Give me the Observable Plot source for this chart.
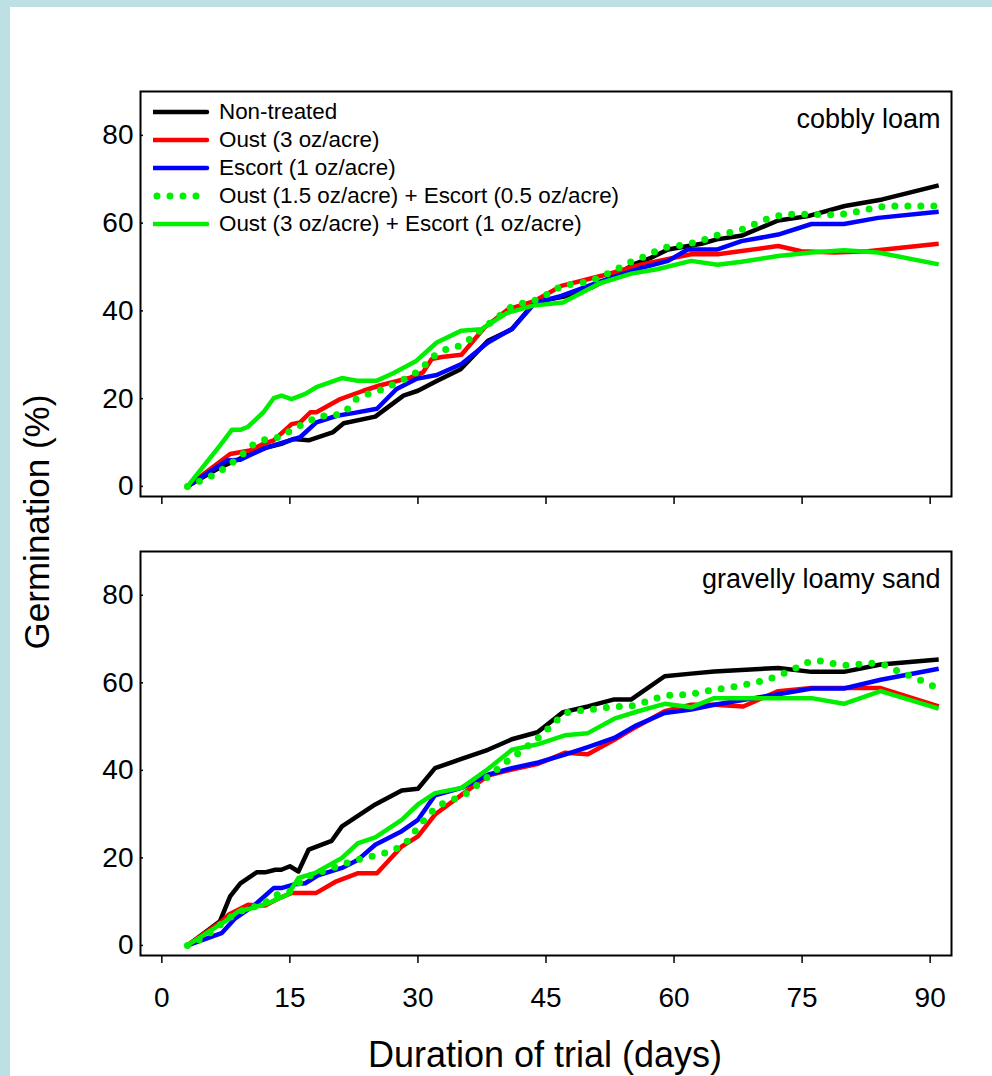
<!DOCTYPE html>
<html><head><meta charset="utf-8">
<script src="https://cdn.jsdelivr.net/npm/d3@7"></script>
<script src="https://cdn.jsdelivr.net/npm/@observablehq/plot@0.6"></script>
<style>
html,body{margin:0;padding:0;background:#bce0e3;width:992px;height:1076px;overflow:hidden;}
#sheet{position:absolute;left:10px;top:7px;width:982px;height:1069px;background:#fff;}
.abs{position:absolute;}
.txt{font-family:'Liberation Sans',Arial,sans-serif;color:#000;white-space:nowrap;}
</style></head>
<body>
<div id="sheet"></div>
<div id="fig"></div>
<script>
// ---------- data ----------
const xTicks = [0, 15, 30, 45, 60, 75, 90];
const yTicks = [0, 20, 40, 60, 80];
const seriesNames = ["Non-treated", "Oust (3 oz/acre)", "Escort (1 oz/acre)",
  "Oust (1.5 oz/acre) + Escort (0.5 oz/acre)", "Oust (3 oz/acre) + Escort (1 oz/acre)"];
const seriesColors = ["#000000", "#ff0000", "#0000ff", "#00ee00", "#00ee00"];
const seriesDotted = [false, false, false, true, false];
const panelLabels = ["cobbly loam", "gravelly loamy sand"];

// cobbly loam: [day, germination %]
const loamNonTreated = [[3,0],[5,2.3],[7,4.5],[9,6.2],[11,8.2],[14,9.7],[15.4,10.8],[17.2,10.5],[20,12.3],[21.3,14.4],[25,15.9],[28.3,20.7],[30,21.8],[32.2,24],[35,26.7],[38.2,33.2],[41,35.8],[43.7,42],[47,43.2],[50.3,45.3],[52.6,47.6],[55.4,50.7],[57.3,52.1],[59.3,54],[63.2,55.3],[65,56.3],[68,57.2],[72.2,60.6],[75.7,61.6],[80,63.9],[84.4,65.4],[91,68.6]];
const loamOust = [[3,0],[8,7.4],[10.3,8.2],[11.9,9.7],[13.1,10.5],[15.2,14.2],[16.2,14.6],[17.4,16.9],[18.1,16.9],[20.9,19.9],[23.6,21.8],[25.5,23],[29.1,24.8],[30.6,26],[31.6,29],[32.8,29.5],[35.1,30],[37.8,36.2],[40.6,40.4],[43.7,42.3],[46.8,45.7],[51.5,48],[56.2,50.6],[62,52.9],[65.1,52.9],[72.2,54.8],[74.9,53.6],[78.8,53.3],[82.7,53.6],[91,55.3]];
const loamEscort = [[3,0],[7.6,5.9],[9.2,6.1],[12.3,8.9],[15,10.5],[16.2,11.2],[18.1,14.6],[20.5,16.1],[22.4,16.7],[25.2,17.7],[27.5,22.2],[29.8,24.5],[32.2,25.4],[35.1,27.9],[38.2,32.8],[41,35.9],[43.7,41.8],[46.8,43.4],[51.5,46.8],[56.2,49.8],[59.3,51.4],[61.6,54],[65.1,54],[67.9,55.9],[72.2,57.4],[76.1,59.8],[79.9,59.8],[83.9,61.2],[91,62.6]];
const loamMixLow = [[3,0],[4.7,1.4],[6.2,2.7],[7.7,4.6],[9.2,6.9],[10.7,9.5],[12.2,10.8],[13.8,11.2],[15.3,13],[16.9,14.5],[18.4,16.1],[19.9,16],[21.4,16.8],[22.7,19.8],[24.2,21.1],[25.7,22],[27.2,23.3],[28.7,24.7],[30.3,26.5],[31.6,29.4],[33,31.1],[34.5,31.7],[36.1,33.6],[37.6,36],[39.2,38.3],[40.6,40.6],[42.2,41.7],[43.7,42.4],[45.3,43.9],[46.8,45.7],[48.4,46.2],[49.9,46.6],[51.5,47.8],[53,49.2],[54.5,50.8],[56.1,52],[57.6,53.4],[59.1,54.5],[60.6,54.9],[62.2,55.5],[63.8,56.4],[65.3,57.4],[66.9,58],[68.4,58.8],[69.9,60.2],[71.5,61.4],[73,62],[74.6,62],[76.1,62],[77.6,61.9],[79.2,61.9],[80.7,62.3],[82.2,63],[83.8,63.6],[85.3,63.9],[86.9,63.9],[88.4,63.9],[89.9,63.9],[91,63.9]];
const loamMixHigh = [[3,0],[6.8,9.3],[8.2,12.9],[9.2,12.9],[10.1,13.6],[11.9,16.9],[13.1,20.1],[14,20.7],[15.2,19.9],[16.8,21.1],[18.1,22.6],[21.1,24.7],[22.8,24.1],[25.2,24.1],[27.1,25.8],[29.8,28.6],[32.2,32.8],[35.1,35.5],[37.4,35.8],[40.4,39.5],[43.5,41.2],[47,41.9],[51.3,46.3],[55,48.5],[58,49.5],[62,51.4],[65.1,50.5],[67.9,51.2],[72.2,52.5],[76.1,53.3],[79.9,53.8],[83.9,53.3],[91,50.6]];

// gravelly loamy sand: [day, germination %]
const sandNonTreated = [[3,0],[6.8,5.5],[8,11.2],[9.2,14.2],[11.1,16.7],[12.1,16.7],[13.3,17.3],[14,17.3],[15,18.1],[16,16.9],[17.2,21.9],[19.9,23.9],[21.1,27.2],[25,32.2],[28.1,35.4],[30,35.8],[32,40.5],[35.1,42.6],[38.2,44.7],[41,47.1],[44,48.7],[47,53.3],[49.9,54.6],[53,56.2],[55,56.2],[58.9,61.5],[62,62.1],[64.7,62.6],[72.2,63.4],[76.1,62.5],[79.9,62.5],[84.2,64.2],[91,65.3]];
const sandOust = [[3,0],[7,5.5],[7.8,7],[10.1,9.3],[12.1,9.1],[13.3,10.4],[15.2,12],[18.1,12],[20.3,14.5],[23,16.5],[25.2,16.5],[28.1,22.6],[30,24.9],[32,29.9],[35.1,34.4],[38.2,38.8],[41,40.2],[44.1,41.5],[47.2,44],[49.9,43.7],[53,47],[55,49.3],[58.9,53.5],[62,55],[64.7,55],[68.1,54.6],[72.2,58.1],[76.1,58.8],[84.2,58.8],[91,54.6]];
const sandEscort = [[3,0],[7,2.8],[8.6,6.2],[10.9,9.3],[13.1,13.1],[14,13.1],[15.6,14],[16.8,14.2],[18.3,16],[21.1,17.7],[23,19.6],[25,23],[28.1,26.1],[30,28.7],[32,34.3],[35.1,36],[38.2,39],[41,40.5],[44.1,41.8],[47.2,43.6],[49.9,45.3],[53,47.4],[55.4,50.1],[58.9,53.1],[62,53.9],[64.7,55],[72.2,57.4],[76.1,58.7],[79.9,58.7],[84.2,60.7],[91,63.2]];
const sandMixLow = [[3,0],[4.6,1.5],[6,3.4],[7.4,5.6],[8.9,7.6],[10.4,8.5],[12,9.7],[13.5,11.6],[15,12.3],[16.4,14.8],[17.7,16.3],[19.2,17.1],[20.7,18.2],[22.3,19.2],[23.9,20.1],[25.4,20.7],[27,21.6],[28.5,23.2],[29.7,26.2],[31,29.3],[32.3,31.9],[33.8,33.1],[35.4,34.3],[37,36.7],[38.5,39],[40,41.4],[41.6,43.7],[43.1,45.9],[44.6,48.2],[46.1,51.2],[47.6,53.3],[49.1,53.7],[50.7,54],[52.2,54.4],[53.8,54.6],[55.3,54.8],[56.9,55.8],[58.4,56.8],[59.9,57.3],[61.5,57.3],[63,57.8],[64.5,58.4],[66,58.8],[67.6,59.3],[69.1,59.9],[70.7,60.6],[72.2,61.6],[73.8,62.9],[75.3,64.5],[76.8,65.1],[78.4,64.5],[79.9,64],[81.5,64.2],[83,64.5],[84.5,64.2],[86.1,62.8],[87.6,61.6],[89.2,60.3],[91,58.7]];
const sandMixHigh = [[3,0],[7.4,5.5],[9,7.8],[10.5,8.5],[12.5,9.7],[14.8,11.7],[16,15.4],[17.9,16.5],[21.1,20],[23,23.4],[25,24.7],[28.1,28.7],[30,32.2],[32,34.8],[35.1,36],[38.2,40.3],[41,44.7],[44.1,46],[47.2,48],[49.9,48.5],[53,51.8],[55.8,53.5],[58.9,55.2],[62,54.4],[64.7,56.5],[76.1,56.5],[79.9,55.2],[84.2,58.1],[91,54.1]];

const loamSeries = [loamNonTreated, loamOust, loamEscort, loamMixLow, loamMixHigh];
const sandSeries = [sandNonTreated, sandOust, sandEscort, sandMixLow, sandMixHigh];
// drawing order: black, red, blue, solid green, dotted green
const drawOrder = [0, 1, 2, 4, 3];

const FONT = "'Liberation Sans', Arial, Helvetica, sans-serif";

function lineMark(data, i) {
  const dotted = seriesDotted[i];
  return Plot.line(data, {
    x: d => d[0], y: d => d[1],
    stroke: seriesColors[i],
    strokeWidth: dotted ? 7 : 4.5,
    strokeDasharray: dotted ? "0 13" : null,
    strokeLinecap: dotted ? "round" : "butt",
    strokeLinejoin: "round"
  });
}

function panel(series, label, showX, o) {
  return Plot.plot({
    width: 992, height: o.height,
    marginLeft: 140, marginRight: 41, marginTop: o.mt, marginBottom: o.mb,
    style: {fontFamily: FONT, fontSize: "28px", color: "#000", background: "transparent", overflow: "visible"},
    x: {domain: [-2.5, 92.5]},
    y: {domain: [-2.3, 90]},
    marks: [
      Plot.axisX({ticks: xTicks, tickSize: 8, tickPadding: 24, strokeWidth: 1.5,
        tickFormat: showX ? (d => d) : (() => ""), label: null, fontSize: 28}),
      Plot.axisY({ticks: yTicks, tickSize: -3, strokeWidth: 1.5, text: null, label: null}),
      Plot.axisY({ticks: yTicks, tickSize: 0, tickPadding: 7, label: null, fontSize: 28}),
      ...drawOrder.map(i => lineMark(series[i], i)),
      Plot.frame({stroke: "#000", strokeWidth: 2}),
      Plot.text([label], {text: d => d, frameAnchor: "top-right", dx: -11, dy: 28,
        fontSize: 27, textAnchor: "end", lineAnchor: "middle", fill: "#000"})
    ]
  });
}

const figEl = document.getElementById("fig");

const topPlot = panel(loamSeries, panelLabels[0], false, {height: 540, mt: 91, mb: 44});
topPlot.classList.add("abs"); topPlot.style.left = "0px"; topPlot.style.top = "0px";
figEl.appendChild(topPlot);

const bottomPlot = panel(sandSeries, panelLabels[1], true, {height: 520, mt: 31, mb: 85});
bottomPlot.classList.add("abs"); bottomPlot.style.left = "0px"; bottomPlot.style.top = "520px";
figEl.appendChild(bottomPlot);

// legend (inside top panel)
const legendEl = document.createElement("div");
legendEl.className = "abs txt";
legendEl.style.left = "153px"; legendEl.style.top = "97.5px";
seriesNames.forEach((name, i) => {
  const row = document.createElement("div");
  row.style.cssText = "height:28px;display:flex;align-items:center;font-size:22.4px;";
  const sw = d3.create("svg").attr("width", 66).attr("height", 12).style("flex", "none");
  sw.append("line").attr("x1", seriesDotted[i] ? 4 : 0).attr("x2", 54).attr("y1", 6).attr("y2", 6)
    .attr("stroke", seriesColors[i]).attr("stroke-width", seriesDotted[i] ? 7 : 4.5)
    .attr("stroke-linecap", "round")
    .attr("stroke-dasharray", seriesDotted[i] ? "0 13" : null);
  row.appendChild(sw.node());
  const t = document.createElement("span");
  t.textContent = name;
  row.appendChild(t);
  legendEl.appendChild(row);
});
figEl.appendChild(legendEl);

// axis titles
const ytitle = document.createElement("div");
ytitle.className = "abs txt";
ytitle.textContent = "Germination (%)";
ytitle.style.cssText += "font-size:35px;left:37px;top:522px;transform:translate(-50%,-50%) rotate(-90deg);";
figEl.appendChild(ytitle);

const xtitle = document.createElement("div");
xtitle.className = "abs txt";
xtitle.textContent = "Duration of trial (days)";
xtitle.style.cssText += "font-size:36px;left:545px;top:1055px;transform:translate(-50%,-50%);";
figEl.appendChild(xtitle);
</script>
</body></html>
